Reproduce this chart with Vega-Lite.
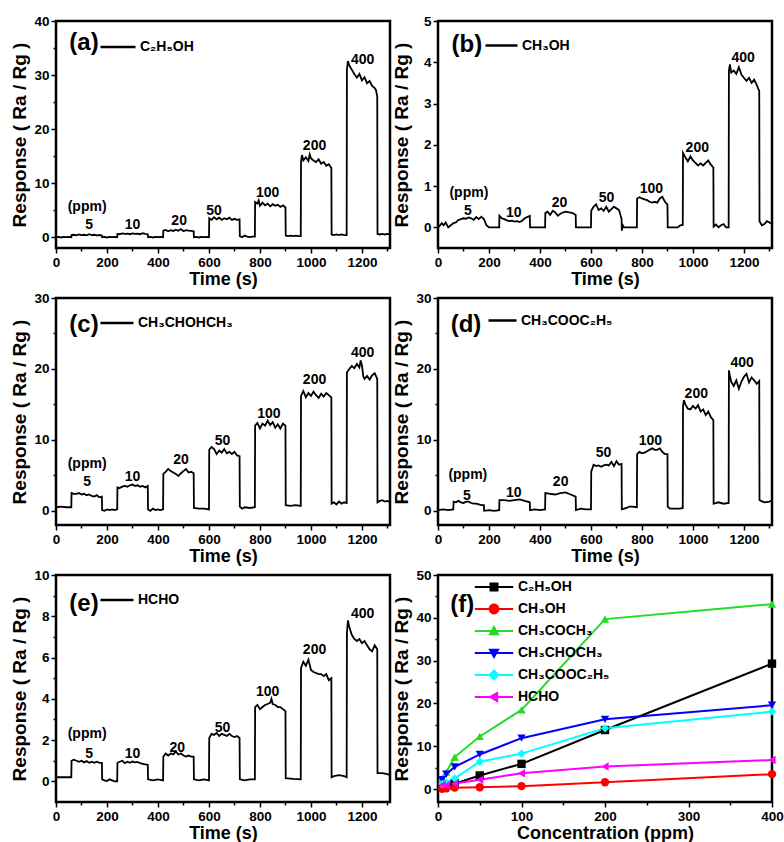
{
"$schema": "https://vega.github.io/schema/vega-lite/v6.json",
"background": "white",
"padding": {"left": 8, "top": 12, "right": 0, "bottom": 0},
"columns": 2,
"bounds": "flush",
"spacing": {"row": 50, "column": 48},
"resolve": {"scale": {"color": "independent", "shape": "independent"}, "legend": {"color": "independent", "shape": "independent"}},
"datasets": {
"a": [{"t":0,"r":0},{"t":10,"r":0.05},{"t":20,"r":-0.05},{"t":30,"r":0.05},{"t":40,"r":0},{"t":50,"r":0.05},{"t":60,"r":0},
{"t":61,"r":0.4},{"t":70,"r":0.45},{"t":80,"r":0.35},{"t":90,"r":0.5},{"t":100,"r":0.4},{"t":110,"r":0.45},{"t":120,"r":0.35},{"t":130,"r":0.55},{"t":140,"r":0.4},{"t":150,"r":0.45},{"t":160,"r":0.35},{"t":170,"r":0.4},{"t":180,"r":0.3},
{"t":181,"r":0},{"t":190,"r":0.05},{"t":200,"r":-0.05},{"t":210,"r":0.05},{"t":220,"r":0},{"t":230,"r":0.05},{"t":240,"r":0},
{"t":241,"r":0.6},{"t":250,"r":0.55},{"t":260,"r":0.7},{"t":270,"r":0.6},{"t":280,"r":0.65},{"t":290,"r":0.55},{"t":300,"r":0.7},{"t":310,"r":0.6},{"t":320,"r":0.65},{"t":330,"r":0.55},{"t":340,"r":0.75},{"t":350,"r":0.6},{"t":360,"r":0.55},
{"t":361,"r":0},{"t":370,"r":0.05},{"t":380,"r":-0.05},{"t":390,"r":0.05},{"t":400,"r":0},{"t":410,"r":0.05},{"t":420,"r":0},
{"t":421,"r":1.2},{"t":430,"r":1.35},{"t":440,"r":1.1},{"t":450,"r":1.3},{"t":460,"r":1.15},{"t":470,"r":1.4},{"t":480,"r":1.2},{"t":490,"r":1.5},{"t":500,"r":1.1},{"t":510,"r":1.3},{"t":520,"r":1.2},{"t":530,"r":1.15},{"t":540,"r":1.1},
{"t":541,"r":0},{"t":550,"r":0.05},{"t":560,"r":-0.05},{"t":570,"r":0.05},{"t":580,"r":0},{"t":590,"r":0.05},{"t":600,"r":0},
{"t":601,"r":3.5},{"t":610,"r":3.2},{"t":620,"r":3.7},{"t":630,"r":3.3},{"t":640,"r":3.6},{"t":650,"r":3.2},{"t":660,"r":3.5},{"t":670,"r":3.3},{"t":680,"r":3.6},{"t":690,"r":3.2},{"t":700,"r":3.4},{"t":710,"r":3.2},{"t":720,"r":3.3},
{"t":721,"r":0.2},{"t":730,"r":0},{"t":740,"r":0.3},{"t":750,"r":0.1},{"t":760,"r":0},{"t":770,"r":0.1},{"t":780,"r":0.1},
{"t":781,"r":6.5},{"t":790,"r":6.2},{"t":795,"r":6.8},{"t":800,"r":5.8},{"t":810,"r":6.4},{"t":820,"r":5.9},{"t":830,"r":6.2},{"t":840,"r":5.7},{"t":850,"r":6.1},{"t":860,"r":5.8},{"t":870,"r":6.0},{"t":880,"r":5.6},{"t":890,"r":5.9},{"t":900,"r":5.5},
{"t":901,"r":0.3},{"t":910,"r":0.2},{"t":920,"r":0.3},{"t":930,"r":0.2},{"t":940,"r":0.3},{"t":950,"r":0.2},{"t":960,"r":0.2},
{"t":961,"r":14.0},{"t":965,"r":15.2},{"t":970,"r":14.2},{"t":980,"r":14.8},{"t":990,"r":14.1},{"t":995,"r":15.3},{"t":1000,"r":14.6},{"t":1010,"r":14.2},{"t":1020,"r":13.9},{"t":1030,"r":14.4},{"t":1040,"r":13.6},{"t":1050,"r":13.9},{"t":1060,"r":13.2},{"t":1070,"r":13.5},{"t":1080,"r":12.8},
{"t":1081,"r":0.5},{"t":1090,"r":0.4},{"t":1100,"r":0.5},{"t":1110,"r":0.4},{"t":1120,"r":0.5},{"t":1130,"r":0.4},{"t":1140,"r":0.4},
{"t":1141,"r":31.0},{"t":1145,"r":32.6},{"t":1150,"r":31.8},{"t":1160,"r":31.0},{"t":1170,"r":30.2},{"t":1180,"r":29.5},{"t":1190,"r":30.2},{"t":1200,"r":29.0},{"t":1210,"r":29.6},{"t":1220,"r":28.5},{"t":1230,"r":28.9},{"t":1240,"r":28.0},{"t":1250,"r":27.6},{"t":1255,"r":27.2},{"t":1260,"r":26.0},
{"t":1261,"r":0.6},{"t":1270,"r":0.5},{"t":1280,"r":0.6},{"t":1290,"r":0.5},{"t":1300,"r":0.6},{"t":1310,"r":0.5}],
"b": [{"t":0,"r":0},{"t":8,"r":0.05},{"t":15,"r":0.1},{"t":22,"r":0.05},{"t":30,"r":0.12},{"t":40,"r":0.0},{"t":50,"r":0.05},{"t":60,"r":0.1},
{"t":70,"r":0.12},{"t":80,"r":0.18},{"t":90,"r":0.2},{"t":100,"r":0.22},{"t":110,"r":0.21},{"t":120,"r":0.24},{"t":130,"r":0.22},{"t":140,"r":0.18},{"t":150,"r":0.25},{"t":160,"r":0.2},{"t":170,"r":0.26},{"t":180,"r":0.2},{"t":190,"r":0.05},{"t":200,"r":0},{"t":210,"r":0},{"t":240,"r":0},
{"t":241,"r":0.28},{"t":250,"r":0.22},{"t":260,"r":0.2},{"t":270,"r":0.17},{"t":280,"r":0.15},{"t":290,"r":0.16},{"t":300,"r":0.14},{"t":310,"r":0.15},{"t":320,"r":0.13},{"t":330,"r":0.16},{"t":340,"r":0.22},{"t":350,"r":0.25},{"t":360,"r":0.28},
{"t":361,"r":0},{"t":420,"r":0},
{"t":421,"r":0.35},{"t":430,"r":0.38},{"t":440,"r":0.3},{"t":450,"r":0.4},{"t":460,"r":0.36},{"t":470,"r":0.28},{"t":480,"r":0.33},{"t":490,"r":0.36},{"t":500,"r":0.38},{"t":510,"r":0.37},{"t":520,"r":0.36},{"t":530,"r":0.34},{"t":540,"r":0.3},
{"t":541,"r":0},{"t":600,"r":0},
{"t":601,"r":0.4},{"t":610,"r":0.5},{"t":620,"r":0.56},{"t":630,"r":0.42},{"t":640,"r":0.46},{"t":650,"r":0.4},{"t":660,"r":0.5},{"t":670,"r":0.38},{"t":680,"r":0.44},{"t":690,"r":0.5},{"t":700,"r":0.46},{"t":710,"r":0.42},{"t":720,"r":0.2},
{"t":721,"r":-0.08},{"t":725,"r":0.05},{"t":730,"r":0},{"t":740,"r":0},{"t":780,"r":0},
{"t":781,"r":0.7},{"t":790,"r":0.73},{"t":800,"r":0.7},{"t":810,"r":0.68},{"t":820,"r":0.66},{"t":830,"r":0.62},{"t":840,"r":0.6},{"t":850,"r":0.62},{"t":860,"r":0.6},{"t":870,"r":0.7},{"t":880,"r":0.74},{"t":890,"r":0.62},{"t":900,"r":0.55},
{"t":901,"r":0},{"t":940,"r":0},{"t":950,"r":0.05},{"t":960,"r":0.06},
{"t":961,"r":1.8},{"t":970,"r":1.7},{"t":980,"r":1.6},{"t":990,"r":1.72},{"t":1000,"r":1.62},{"t":1010,"r":1.56},{"t":1020,"r":1.5},{"t":1030,"r":1.55},{"t":1040,"r":1.5},{"t":1050,"r":1.56},{"t":1060,"r":1.62},{"t":1070,"r":1.52},{"t":1080,"r":1.45},
{"t":1081,"r":0.02},{"t":1090,"r":0.07},{"t":1100,"r":0.0},{"t":1110,"r":0.05},{"t":1120,"r":0.08},{"t":1130,"r":0},{"t":1140,"r":0.0},
{"t":1141,"r":3.8},{"t":1145,"r":3.95},{"t":1150,"r":3.75},{"t":1160,"r":3.8},{"t":1170,"r":3.72},{"t":1180,"r":3.88},{"t":1190,"r":3.7},{"t":1200,"r":3.62},{"t":1210,"r":3.55},{"t":1220,"r":3.62},{"t":1230,"r":3.5},{"t":1240,"r":3.58},{"t":1250,"r":3.45},{"t":1260,"r":3.3},
{"t":1261,"r":0.15},{"t":1270,"r":0.05},{"t":1280,"r":0.08},{"t":1290,"r":0.15},{"t":1300,"r":0.12},{"t":1310,"r":0.08}],
"c": [{"t":0,"r":0.5},{"t":20,"r":0.6},{"t":40,"r":0.5},{"t":60,"r":0.5},
{"t":61,"r":2.5},{"t":70,"r":2.4},{"t":80,"r":2.4},{"t":90,"r":2.5},{"t":100,"r":2.3},{"t":110,"r":2.4},{"t":120,"r":2.2},{"t":130,"r":2.3},{"t":140,"r":2.1},{"t":150,"r":2.0},{"t":160,"r":2.2},{"t":170,"r":1.9},{"t":180,"r":2.0},
{"t":181,"r":0.1},{"t":190,"r":0.0},{"t":200,"r":0.2},{"t":210,"r":0.1},{"t":220,"r":0.2},{"t":230,"r":0.1},{"t":240,"r":0.2},
{"t":241,"r":3.3},{"t":250,"r":3.2},{"t":260,"r":3.4},{"t":270,"r":3.5},{"t":280,"r":3.4},{"t":290,"r":3.6},{"t":300,"r":3.7},{"t":310,"r":3.5},{"t":320,"r":3.6},{"t":330,"r":3.4},{"t":340,"r":3.5},{"t":350,"r":3.3},{"t":360,"r":3.5},
{"t":361,"r":0.2},{"t":370,"r":0.0},{"t":380,"r":0.3},{"t":390,"r":0.1},{"t":400,"r":0.2},{"t":410,"r":0.1},{"t":420,"r":0.2},
{"t":421,"r":5.2},{"t":430,"r":5.5},{"t":440,"r":5.9},{"t":450,"r":5.6},{"t":460,"r":5.4},{"t":470,"r":5.2},{"t":480,"r":4.9},{"t":490,"r":5.3},{"t":500,"r":5.6},{"t":510,"r":5.9},{"t":520,"r":5.4},{"t":530,"r":5.5},{"t":540,"r":5.3},
{"t":541,"r":0.4},{"t":560,"r":0.3},{"t":580,"r":0.3},{"t":600,"r":0.2},
{"t":601,"r":8.6},{"t":610,"r":9.0},{"t":620,"r":8.7},{"t":630,"r":8.0},{"t":640,"r":8.5},{"t":650,"r":8.2},{"t":660,"r":8.7},{"t":670,"r":8.1},{"t":680,"r":8.3},{"t":690,"r":8.0},{"t":700,"r":8.3},{"t":710,"r":7.8},{"t":720,"r":7.7},
{"t":721,"r":0.6},{"t":730,"r":0.3},{"t":740,"r":0.5},{"t":760,"r":0.4},{"t":780,"r":0.5},
{"t":781,"r":12.0},{"t":790,"r":12.4},{"t":800,"r":11.6},{"t":810,"r":12.3},{"t":820,"r":12.0},{"t":830,"r":12.7},{"t":840,"r":12.1},{"t":850,"r":12.5},{"t":860,"r":11.7},{"t":870,"r":12.2},{"t":880,"r":11.6},{"t":890,"r":12.3},{"t":900,"r":12.0},
{"t":901,"r":0.8},{"t":920,"r":0.7},{"t":940,"r":0.8},{"t":960,"r":0.7},
{"t":961,"r":16.2},{"t":970,"r":16.9},{"t":980,"r":16.0},{"t":990,"r":16.6},{"t":1000,"r":16.2},{"t":1010,"r":16.8},{"t":1020,"r":16.3},{"t":1030,"r":15.9},{"t":1040,"r":16.5},{"t":1050,"r":16.1},{"t":1060,"r":16.6},{"t":1070,"r":16.3},{"t":1080,"r":16.0},
{"t":1081,"r":1.0},{"t":1090,"r":1.2},{"t":1100,"r":0.9},{"t":1110,"r":1.3},{"t":1120,"r":1.0},{"t":1130,"r":1.2},{"t":1140,"r":1.1},
{"t":1141,"r":19.5},{"t":1150,"r":20.0},{"t":1160,"r":20.4},{"t":1170,"r":20.1},{"t":1180,"r":20.7},{"t":1190,"r":20.2},{"t":1195,"r":21.2},{"t":1200,"r":20.5},{"t":1205,"r":19.0},{"t":1210,"r":18.6},{"t":1220,"r":19.0},{"t":1230,"r":18.5},{"t":1240,"r":19.1},{"t":1250,"r":19.4},{"t":1260,"r":18.6},
{"t":1261,"r":1.2},{"t":1270,"r":1.4},{"t":1280,"r":1.5},{"t":1290,"r":1.3},{"t":1300,"r":1.4},{"t":1310,"r":1.2}],
"d": [{"t":0,"r":0.1},{"t":20,"r":0.2},{"t":40,"r":0.1},{"t":60,"r":0.2},
{"t":61,"r":1.3},{"t":70,"r":1.2},{"t":80,"r":1.4},{"t":90,"r":1.2},{"t":100,"r":1.1},{"t":110,"r":1.3},{"t":120,"r":1.3},{"t":130,"r":1.1},{"t":140,"r":1.0},{"t":150,"r":1.0},{"t":160,"r":0.9},{"t":170,"r":0.8},{"t":180,"r":0.8},
{"t":181,"r":0.0},{"t":200,"r":0.1},{"t":220,"r":0.0},{"t":240,"r":0.1},
{"t":241,"r":1.5},{"t":260,"r":1.5},{"t":280,"r":1.4},{"t":300,"r":1.5},{"t":320,"r":1.6},{"t":340,"r":1.4},{"t":360,"r":1.2},
{"t":361,"r":0.1},{"t":380,"r":0.2},{"t":400,"r":0.1},{"t":420,"r":0.2},
{"t":421,"r":2.5},{"t":440,"r":2.4},{"t":460,"r":2.3},{"t":480,"r":2.5},{"t":500,"r":2.6},{"t":520,"r":2.3},{"t":540,"r":2.0},
{"t":541,"r":0.1},{"t":560,"r":0.3},{"t":580,"r":0.2},{"t":600,"r":0.2},
{"t":601,"r":5.5},{"t":610,"r":6.5},{"t":620,"r":6.3},{"t":630,"r":6.4},{"t":640,"r":6.2},{"t":650,"r":6.4},{"t":660,"r":6.5},{"t":670,"r":6.4},{"t":680,"r":6.9},{"t":690,"r":6.3},{"t":700,"r":7.0},{"t":710,"r":6.5},{"t":720,"r":6.6},
{"t":721,"r":0.2},{"t":740,"r":0.4},{"t":750,"r":0.6},{"t":760,"r":0.6},{"t":780,"r":0.5},
{"t":781,"r":8.0},{"t":790,"r":8.3},{"t":800,"r":8.1},{"t":810,"r":8.2},{"t":820,"r":8.4},{"t":830,"r":8.6},{"t":840,"r":8.8},{"t":850,"r":8.6},{"t":860,"r":8.6},{"t":870,"r":8.8},{"t":880,"r":8.3},{"t":890,"r":8.0},{"t":900,"r":8.0},
{"t":901,"r":0.6},{"t":910,"r":0.3},{"t":930,"r":0.3},{"t":950,"r":0.3},{"t":960,"r":0.4},
{"t":961,"r":14.8},{"t":965,"r":15.6},{"t":970,"r":15.0},{"t":980,"r":14.4},{"t":990,"r":14.3},{"t":1000,"r":14.8},{"t":1010,"r":14.4},{"t":1020,"r":14.9},{"t":1030,"r":14.0},{"t":1040,"r":14.3},{"t":1050,"r":13.5},{"t":1060,"r":14.0},{"t":1070,"r":13.2},{"t":1080,"r":12.8},
{"t":1081,"r":1.0},{"t":1090,"r":1.1},{"t":1100,"r":1.2},{"t":1120,"r":1.0},{"t":1140,"r":1.1},
{"t":1141,"r":19.8},{"t":1145,"r":19.0},{"t":1150,"r":18.2},{"t":1160,"r":17.6},{"t":1170,"r":18.4},{"t":1180,"r":17.2},{"t":1190,"r":18.2},{"t":1200,"r":18.9},{"t":1210,"r":19.3},{"t":1220,"r":18.1},{"t":1230,"r":18.8},{"t":1240,"r":18.4},{"t":1250,"r":17.9},{"t":1260,"r":18.3},
{"t":1261,"r":1.5},{"t":1280,"r":1.2},{"t":1300,"r":1.3},{"t":1310,"r":1.5}],
"e": [{"t":0,"r":0.2},{"t":30,"r":0.2},{"t":60,"r":0.2},
{"t":61,"r":1.0},{"t":70,"r":1.05},{"t":80,"r":1.0},{"t":90,"r":0.95},{"t":100,"r":1.0},{"t":110,"r":0.92},{"t":120,"r":0.98},{"t":130,"r":0.9},{"t":140,"r":0.95},{"t":150,"r":0.9},{"t":160,"r":0.95},{"t":170,"r":0.9},{"t":180,"r":0.9},
{"t":181,"r":0.1},{"t":190,"r":0.05},{"t":200,"r":0.02},{"t":210,"r":0.1},{"t":220,"r":0.05},{"t":230,"r":0.0},{"t":240,"r":0.0},
{"t":241,"r":0.9},{"t":250,"r":0.95},{"t":260,"r":1.0},{"t":270,"r":0.88},{"t":280,"r":0.95},{"t":290,"r":0.9},{"t":300,"r":0.96},{"t":310,"r":0.92},{"t":320,"r":0.94},{"t":330,"r":0.88},{"t":340,"r":0.85},{"t":350,"r":0.82},{"t":360,"r":0.8},
{"t":361,"r":0.1},{"t":380,"r":0.05},{"t":400,"r":0.1},{"t":420,"r":0.05},
{"t":421,"r":1.2},{"t":430,"r":1.35},{"t":440,"r":1.25},{"t":450,"r":1.35},{"t":460,"r":1.3},{"t":470,"r":1.45},{"t":480,"r":1.3},{"t":490,"r":1.35},{"t":500,"r":1.25},{"t":510,"r":1.2},{"t":520,"r":1.25},{"t":530,"r":1.2},{"t":540,"r":1.2},
{"t":541,"r":0.1},{"t":560,"r":0.05},{"t":580,"r":0.1},{"t":600,"r":0.05},
{"t":601,"r":2.1},{"t":610,"r":2.3},{"t":620,"r":2.25},{"t":630,"r":2.35},{"t":640,"r":2.2},{"t":650,"r":2.3},{"t":660,"r":2.25},{"t":670,"r":2.2},{"t":680,"r":2.3},{"t":690,"r":2.2},{"t":700,"r":2.15},{"t":710,"r":2.2},{"t":720,"r":2.1},
{"t":721,"r":0.1},{"t":740,"r":0.05},{"t":760,"r":0.1},{"t":780,"r":0.1},
{"t":781,"r":3.6},{"t":790,"r":3.7},{"t":800,"r":3.5},{"t":810,"r":3.6},{"t":820,"r":3.7},{"t":830,"r":3.75},{"t":840,"r":3.8},{"t":845,"r":4.0},{"t":850,"r":3.75},{"t":860,"r":3.7},{"t":870,"r":3.6},{"t":880,"r":3.6},{"t":890,"r":3.5},{"t":900,"r":3.4},
{"t":901,"r":0.15},{"t":930,"r":0.12},{"t":960,"r":0.1},
{"t":961,"r":5.5},{"t":970,"r":5.8},{"t":980,"r":5.6},{"t":990,"r":5.9},{"t":1000,"r":5.4},{"t":1010,"r":5.3},{"t":1020,"r":5.25},{"t":1030,"r":5.2},{"t":1040,"r":5.2},{"t":1050,"r":5.1},{"t":1060,"r":5.2},{"t":1070,"r":4.9},{"t":1080,"r":5.0},
{"t":1081,"r":0.2},{"t":1090,"r":0.25},{"t":1110,"r":0.3},{"t":1130,"r":0.25},{"t":1140,"r":0.2},
{"t":1141,"r":7.2},{"t":1145,"r":7.8},{"t":1150,"r":7.5},{"t":1160,"r":7.1},{"t":1170,"r":6.9},{"t":1180,"r":6.8},{"t":1190,"r":6.9},{"t":1200,"r":6.7},{"t":1210,"r":6.8},{"t":1220,"r":6.6},{"t":1230,"r":6.4},{"t":1240,"r":6.3},{"t":1250,"r":6.6},{"t":1260,"r":6.4},
{"t":1261,"r":0.4},{"t":1280,"r":0.4},{"t":1300,"r":0.35},{"t":1310,"r":0.3}],
"at": [{"t":122,"r":5.6,"s":"(ppm)"},{"t":130,"r":2.3,"s":"5"},{"t":300,"r":2.3,"s":"10"},{"t":483,"r":3.0,"s":"20"},{"t":620,"r":4.9,"s":"50"},{"t":830,"r":8.1,"s":"100"},{"t":1014,"r":16.8,"s":"200"},{"t":1203,"r":32.7,"s":"400"},{"t":110,"r":35.9,"s":"(a)","big":true}],
"bt": [{"t":121,"r":0.83,"s":"(ppm)"},{"t":117,"r":0.39,"s":"5"},{"t":297,"r":0.34,"s":"10"},{"t":477,"r":0.59,"s":"20"},{"t":661,"r":0.7,"s":"50"},{"t":837,"r":0.92,"s":"100"},{"t":1017,"r":1.93,"s":"200"},{"t":1197,"r":4.1,"s":"400"},{"t":113,"r":4.41,"s":"(b)","big":true}],
"ct": [{"t":122,"r":6.6,"s":"(ppm)"},{"t":122,"r":4.0,"s":"5"},{"t":300,"r":4.7,"s":"10"},{"t":490,"r":7.1,"s":"20"},{"t":653,"r":9.9,"s":"50"},{"t":835,"r":13.7,"s":"100"},{"t":1014,"r":18.4,"s":"200"},{"t":1203,"r":22.3,"s":"400"},{"t":110,"r":26.2,"s":"(c)","big":true}],
"dt": [{"t":117,"r":5.1,"s":"(ppm)"},{"t":113,"r":2.1,"s":"5"},{"t":297,"r":2.5,"s":"10"},{"t":481,"r":4.0,"s":"20"},{"t":649,"r":8.1,"s":"50"},{"t":833,"r":9.9,"s":"100"},{"t":1013,"r":16.5,"s":"200"},{"t":1193,"r":20.9,"s":"400"},{"t":110,"r":26.2,"s":"(d)","big":true}],
"et": [{"t":122,"r":2.3,"s":"(ppm)"},{"t":130,"r":1.33,"s":"5"},{"t":300,"r":1.33,"s":"10"},{"t":476,"r":1.63,"s":"20"},{"t":653,"r":2.6,"s":"50"},{"t":830,"r":4.33,"s":"100"},{"t":1014,"r":6.35,"s":"200"},{"t":1203,"r":8.1,"s":"400"},{"t":110,"r":8.6,"s":"(e)","big":true}],
"f": [
{"g":"C₂H₅OH","c":5,"r":0.5},{"g":"C₂H₅OH","c":10,"r":0.8},{"g":"C₂H₅OH","c":20,"r":1.3},{"g":"C₂H₅OH","c":50,"r":3.2},{"g":"C₂H₅OH","c":100,"r":5.9},{"g":"C₂H₅OH","c":200,"r":13.8},{"g":"C₂H₅OH","c":400,"r":29.3},
{"g":"CH₃OH","c":5,"r":0.1},{"g":"CH₃OH","c":10,"r":0.2},{"g":"CH₃OH","c":20,"r":0.35},{"g":"CH₃OH","c":50,"r":0.45},{"g":"CH₃OH","c":100,"r":0.7},{"g":"CH₃OH","c":200,"r":1.6},{"g":"CH₃OH","c":400,"r":3.5},
{"g":"CH₃COCH₃","c":5,"r":2.5},{"g":"CH₃COCH₃","c":10,"r":4.0},{"g":"CH₃COCH₃","c":20,"r":7.5},{"g":"CH₃COCH₃","c":50,"r":12.3},{"g":"CH₃COCH₃","c":100,"r":18.5},{"g":"CH₃COCH₃","c":200,"r":39.7},{"g":"CH₃COCH₃","c":400,"r":43.2},
{"g":"CH₃CHOCH₃","c":5,"r":2.2},{"g":"CH₃CHOCH₃","c":10,"r":3.5},{"g":"CH₃CHOCH₃","c":20,"r":5.2},{"g":"CH₃CHOCH₃","c":50,"r":8.1},{"g":"CH₃CHOCH₃","c":100,"r":11.9},{"g":"CH₃CHOCH₃","c":200,"r":16.3},{"g":"CH₃CHOCH₃","c":400,"r":19.6},
{"g":"CH₃COOC₂H₅","c":5,"r":1.2},{"g":"CH₃COOC₂H₅","c":10,"r":1.5},{"g":"CH₃COOC₂H₅","c":20,"r":2.5},{"g":"CH₃COOC₂H₅","c":50,"r":6.4},{"g":"CH₃COOC₂H₅","c":100,"r":8.3},{"g":"CH₃COOC₂H₅","c":200,"r":14.2},{"g":"CH₃COOC₂H₅","c":400,"r":18.1},
{"g":"HCHO","c":5,"r":1.0},{"g":"HCHO","c":10,"r":0.9},{"g":"HCHO","c":20,"r":1.3},{"g":"HCHO","c":50,"r":2.2},{"g":"HCHO","c":100,"r":3.7},{"g":"HCHO","c":200,"r":5.3},{"g":"HCHO","c":400,"r":6.8}]
},
"concat": [
{"width":334,"height":227,
 "encoding":{
  "x":{"field":"t","type":"quantitative","scale":{"domain":[0,1310],"nice":false},"axis":{"title":"Time (s)","format":"d","values":[0,100,200,300,400,500,600,700,800,900,1000,1100,1200,1300],"labelExpr":"datum.value % 200 === 0 ? datum.label : ''","tickSize":{"condition":{"test":"datum.value % 200 === 0","value":5},"value":3},"labelFlush":false,"labelOverlap":false}},
  "y":{"field":"r","type":"quantitative","scale":{"domain":[-2,40],"nice":false},"axis":{"title":"Response ( Ra / Rg )","format":"d","values":[0,5,10,15,20,25,30,35,40],"labelExpr":"datum.value % 10 === 0 ? datum.label : ''","tickSize":{"condition":{"test":"datum.value % 10 === 0","value":5},"value":3},"minExtent":24,"maxExtent":24,"labelOverlap":false}}},
 "layer":[
  {"data":{"name":"a"},"mark":{"type":"line","strokeWidth":1.8},"encoding":{"color":{"datum":"C₂H₅OH","scale":{"range":["#000000"]},"legend":{"title":null,"orient":"none","legendX":43,"legendY":7,"symbolType":"stroke","symbolSize":1225,"symbolStrokeWidth":2.5,"labelFontSize":14,"labelFontWeight":"bold","labelOffset":3,"labelColor":"#000"}}}},
  {"data":{"name":"at"},"transform":[{"filter":"!datum.big"}],"mark":{"type":"text"},"encoding":{"text":{"field":"s"}}},
  {"data":{"name":"at"},"transform":[{"filter":"datum.big"}],"mark":{"type":"text","fontSize":24},"encoding":{"text":{"field":"s"}}}
 ]},
{"width":334,"height":227,
 "encoding":{
  "x":{"field":"t","type":"quantitative","scale":{"domain":[0,1310],"nice":false},"axis":{"title":"Time (s)","format":"d","values":[0,100,200,300,400,500,600,700,800,900,1000,1100,1200,1300],"labelExpr":"datum.value % 200 === 0 ? datum.label : ''","tickSize":{"condition":{"test":"datum.value % 200 === 0","value":5},"value":3},"labelFlush":false,"labelOverlap":false}},
  "y":{"field":"r","type":"quantitative","scale":{"domain":[-0.5,5],"nice":false},"axis":{"title":"Response ( Ra / Rg )","format":"d","values":[0,0.5,1,1.5,2,2.5,3,3.5,4,4.5,5],"labelExpr":"datum.value % 1 === 0 ? datum.label : ''","tickSize":{"condition":{"test":"datum.value % 1 === 0","value":5},"value":3},"minExtent":24,"maxExtent":24,"labelOverlap":false}}},
 "layer":[
  {"data":{"name":"b"},"mark":{"type":"line","strokeWidth":1.8},"encoding":{"color":{"datum":"CH₃OH","scale":{"range":["#000000"]},"legend":{"title":null,"orient":"none","legendX":46,"legendY":7,"symbolType":"stroke","symbolSize":1024,"symbolStrokeWidth":2.5,"labelFontSize":14,"labelFontWeight":"bold","labelOffset":3,"labelColor":"#000"}}}},
  {"data":{"name":"bt"},"transform":[{"filter":"!datum.big"}],"mark":{"type":"text"},"encoding":{"text":{"field":"s"}}},
  {"data":{"name":"bt"},"transform":[{"filter":"datum.big"}],"mark":{"type":"text","fontSize":24},"encoding":{"text":{"field":"s"}}}
 ]},
{"width":334,"height":227,
 "encoding":{
  "x":{"field":"t","type":"quantitative","scale":{"domain":[0,1310],"nice":false},"axis":{"title":"Time (s)","format":"d","values":[0,100,200,300,400,500,600,700,800,900,1000,1100,1200,1300],"labelExpr":"datum.value % 200 === 0 ? datum.label : ''","tickSize":{"condition":{"test":"datum.value % 200 === 0","value":5},"value":3},"labelFlush":false,"labelOverlap":false}},
  "y":{"field":"r","type":"quantitative","scale":{"domain":[-2,30],"nice":false},"axis":{"title":"Response ( Ra / Rg )","format":"d","values":[0,5,10,15,20,25,30],"labelExpr":"datum.value % 10 === 0 ? datum.label : ''","tickSize":{"condition":{"test":"datum.value % 10 === 0","value":5},"value":3},"minExtent":24,"maxExtent":24,"labelOverlap":false}}},
 "layer":[
  {"data":{"name":"c"},"mark":{"type":"line","strokeWidth":1.8},"encoding":{"color":{"datum":"CH₃CHOHCH₃","scale":{"range":["#000000"]},"legend":{"title":null,"orient":"none","legendX":43,"legendY":7,"symbolType":"stroke","symbolSize":1089,"symbolStrokeWidth":2.5,"labelFontSize":14,"labelFontWeight":"bold","labelOffset":3,"labelColor":"#000"}}}},
  {"data":{"name":"ct"},"transform":[{"filter":"!datum.big"}],"mark":{"type":"text"},"encoding":{"text":{"field":"s"}}},
  {"data":{"name":"ct"},"transform":[{"filter":"datum.big"}],"mark":{"type":"text","fontSize":24},"encoding":{"text":{"field":"s"}}}
 ]},
{"width":334,"height":227,
 "encoding":{
  "x":{"field":"t","type":"quantitative","scale":{"domain":[0,1310],"nice":false},"axis":{"title":"Time (s)","format":"d","values":[0,100,200,300,400,500,600,700,800,900,1000,1100,1200,1300],"labelExpr":"datum.value % 200 === 0 ? datum.label : ''","tickSize":{"condition":{"test":"datum.value % 200 === 0","value":5},"value":3},"labelFlush":false,"labelOverlap":false}},
  "y":{"field":"r","type":"quantitative","scale":{"domain":[-2,30],"nice":false},"axis":{"title":"Response ( Ra / Rg )","format":"d","values":[0,5,10,15,20,25,30],"labelExpr":"datum.value % 10 === 0 ? datum.label : ''","tickSize":{"condition":{"test":"datum.value % 10 === 0","value":5},"value":3},"minExtent":24,"maxExtent":24,"labelOverlap":false}}},
 "layer":[
  {"data":{"name":"d"},"mark":{"type":"line","strokeWidth":1.8},"encoding":{"color":{"datum":"CH₃COOC₂H₅","scale":{"range":["#000000"]},"legend":{"title":null,"orient":"none","legendX":49,"legendY":7,"symbolType":"stroke","symbolSize":784,"symbolStrokeWidth":2.5,"labelFontSize":14,"labelFontWeight":"bold","labelOffset":3,"labelColor":"#000"}}}},
  {"data":{"name":"dt"},"transform":[{"filter":"!datum.big"}],"mark":{"type":"text"},"encoding":{"text":{"field":"s"}}},
  {"data":{"name":"dt"},"transform":[{"filter":"datum.big"}],"mark":{"type":"text","fontSize":24},"encoding":{"text":{"field":"s"}}}
 ]},
{"width":334,"height":227,
 "encoding":{
  "x":{"field":"t","type":"quantitative","scale":{"domain":[0,1310],"nice":false},"axis":{"title":"Time (s)","format":"d","values":[0,100,200,300,400,500,600,700,800,900,1000,1100,1200,1300],"labelExpr":"datum.value % 200 === 0 ? datum.label : ''","tickSize":{"condition":{"test":"datum.value % 200 === 0","value":5},"value":3},"labelFlush":false,"labelOverlap":false}},
  "y":{"field":"r","type":"quantitative","scale":{"domain":[-1,10],"nice":false},"axis":{"title":"Response ( Ra / Rg )","format":"d","values":[0,1,2,3,4,5,6,7,8,9,10],"labelExpr":"datum.value % 2 === 0 ? datum.label : ''","tickSize":{"condition":{"test":"datum.value % 2 === 0","value":5},"value":3},"minExtent":24,"maxExtent":24,"labelOverlap":false}}},
 "layer":[
  {"data":{"name":"e"},"mark":{"type":"line","strokeWidth":1.8},"encoding":{"color":{"datum":"HCHO","scale":{"range":["#000000"]},"legend":{"title":null,"orient":"none","legendX":43,"legendY":7,"symbolType":"stroke","symbolSize":1089,"symbolStrokeWidth":2.5,"labelFontSize":14,"labelFontWeight":"bold","labelOffset":3,"labelColor":"#000"}}}},
  {"data":{"name":"et"},"transform":[{"filter":"!datum.big"}],"mark":{"type":"text"},"encoding":{"text":{"field":"s"}}},
  {"data":{"name":"et"},"transform":[{"filter":"datum.big"}],"mark":{"type":"text","fontSize":24},"encoding":{"text":{"field":"s"}}}
 ]},
{"width":334,"height":227,
 "resolve": {"scale": {"shape": "independent", "color": "independent"}, "legend": {"shape": "independent", "color": "independent"}},
 "encoding":{
  "x":{"field":"c","type":"quantitative","scale":{"domain":[0,400],"nice":false},"axis":{"title":"Concentration (ppm)","format":"d","values":[0,50,100,150,200,250,300,350,400],"labelExpr":"datum.value % 100 === 0 ? datum.label : ''","tickSize":{"condition":{"test":"datum.value % 100 === 0","value":5},"value":3},"labelFlush":false,"labelOverlap":false}},
  "y":{"field":"r","type":"quantitative","scale":{"domain":[-3,50],"nice":false},"axis":{"title":"Response ( Ra / Rg )","format":"d","values":[0,5,10,15,20,25,30,35,40,45,50],"labelExpr":"datum.value % 10 === 0 ? datum.label : ''","tickSize":{"condition":{"test":"datum.value % 10 === 0","value":5},"value":3},"minExtent":24,"maxExtent":24,"labelOverlap":false}}},
 "layer":[
  {"data":{"name":"f"},"mark":{"type":"line","strokeWidth":2,"point":{"filled":true,"size":70,"opacity":1}},
   "encoding":{
    "color":{"field":"g","type":"nominal","scale":{"domain":["C₂H₅OH","CH₃OH","CH₃COCH₃","CH₃CHOCH₃","CH₃COOC₂H₅","HCHO"],"range":["#000000","#ff0000","#22dd22","#0000ff","#00ffff","#ff00ff"]},"legend":null},
    "shape":{"field":"g","type":"nominal","scale":{"domain":["C₂H₅OH","CH₃OH","CH₃COCH₃","CH₃CHOCH₃","CH₃COOC₂H₅","HCHO"],"range":["square","circle","triangle-up","triangle-down","diamond","triangle-left"]},"legend":null}
   }},
  {"data":{"name":"f"},"transform":[{"filter":"false"}],"mark":{"type":"point","filled":true,"opacity":1},
   "encoding":{
    "color":{"field":"g","type":"nominal","scale":{"domain":["C₂H₅OH","CH₃OH","CH₃COCH₃","CH₃CHOCH₃","CH₃COOC₂H₅","HCHO"],"range":["#000000","#ff0000","#22dd22","#0000ff","#00ffff","#ff00ff"]},
      "legend":{"title":null,"orient":"none","legendX":49,"legendY":5,"symbolSize":144,"symbolStrokeWidth":0,"symbolOpacity":1,"labelFontSize":14,"labelFontWeight":"bold","labelOffset":17,"rowPadding":8,"labelColor":"#000"}},
    "shape":{"field":"g","type":"nominal","scale":{"domain":["C₂H₅OH","CH₃OH","CH₃COCH₃","CH₃CHOCH₃","CH₃COOC₂H₅","HCHO"],"range":["M-3.2,-0.17H3.2V0.17H-3.2Z M-0.75,-0.75H0.75V0.75H-0.75Z","M-3.2,-0.17H3.2V0.17H-3.2Z M-0.9,0A0.9,0.9 0 1 1 0.9,0A0.9,0.9 0 1 1 -0.9,0Z","M-3.2,-0.17H3.2V0.17H-3.2Z M0,-1L0.95,0.7H-0.95Z","M-3.2,-0.17H3.2V0.17H-3.2Z M-0.95,-0.7H0.95L0,1Z","M-3.2,-0.17H3.2V0.17H-3.2Z M0,-1L0.95,0L0,1L-0.95,0Z","M-3.2,-0.17H3.2V0.17H-3.2Z M-1,0L0.7,-0.95V0.95Z"]},
      "legend":{"title":null,"orient":"none","legendX":49,"legendY":5,"symbolSize":144,"symbolStrokeWidth":0,"symbolOpacity":1,"labelFontSize":14,"labelFontWeight":"bold","labelOffset":17,"rowPadding":8,"labelColor":"#000"}}
   }},
  {"data":{"values":[{"c":29,"r":43,"s":"(f)"}]},"mark":{"type":"text","fontSize":24},"encoding":{"text":{"field":"s"}}}
 ]}
],
"config": {
 "font":"Liberation Sans",
 "view":{"stroke":"#000","strokeWidth":2.5},
 "axis":{"domain":false,"grid":false,"labelFont":"Liberation Sans","labelFontWeight":"bold","labelFontSize":13.5,"labelColor":"#000","titleFont":"Liberation Sans","titleFontSize":18,"titleFontWeight":"bold","titleColor":"#000","tickColor":"#000","tickWidth":1.5,"labelPadding":2,"titlePadding":2},
 "axisY":{"titlePadding":3,"titleFontSize":19},
 "legend":{"padding":0,"labelFont":"Liberation Sans"},
 "text":{"font":"Liberation Sans","fontWeight":"bold","fontSize":14,"color":"#000","align":"center","baseline":"middle"}
}
}
